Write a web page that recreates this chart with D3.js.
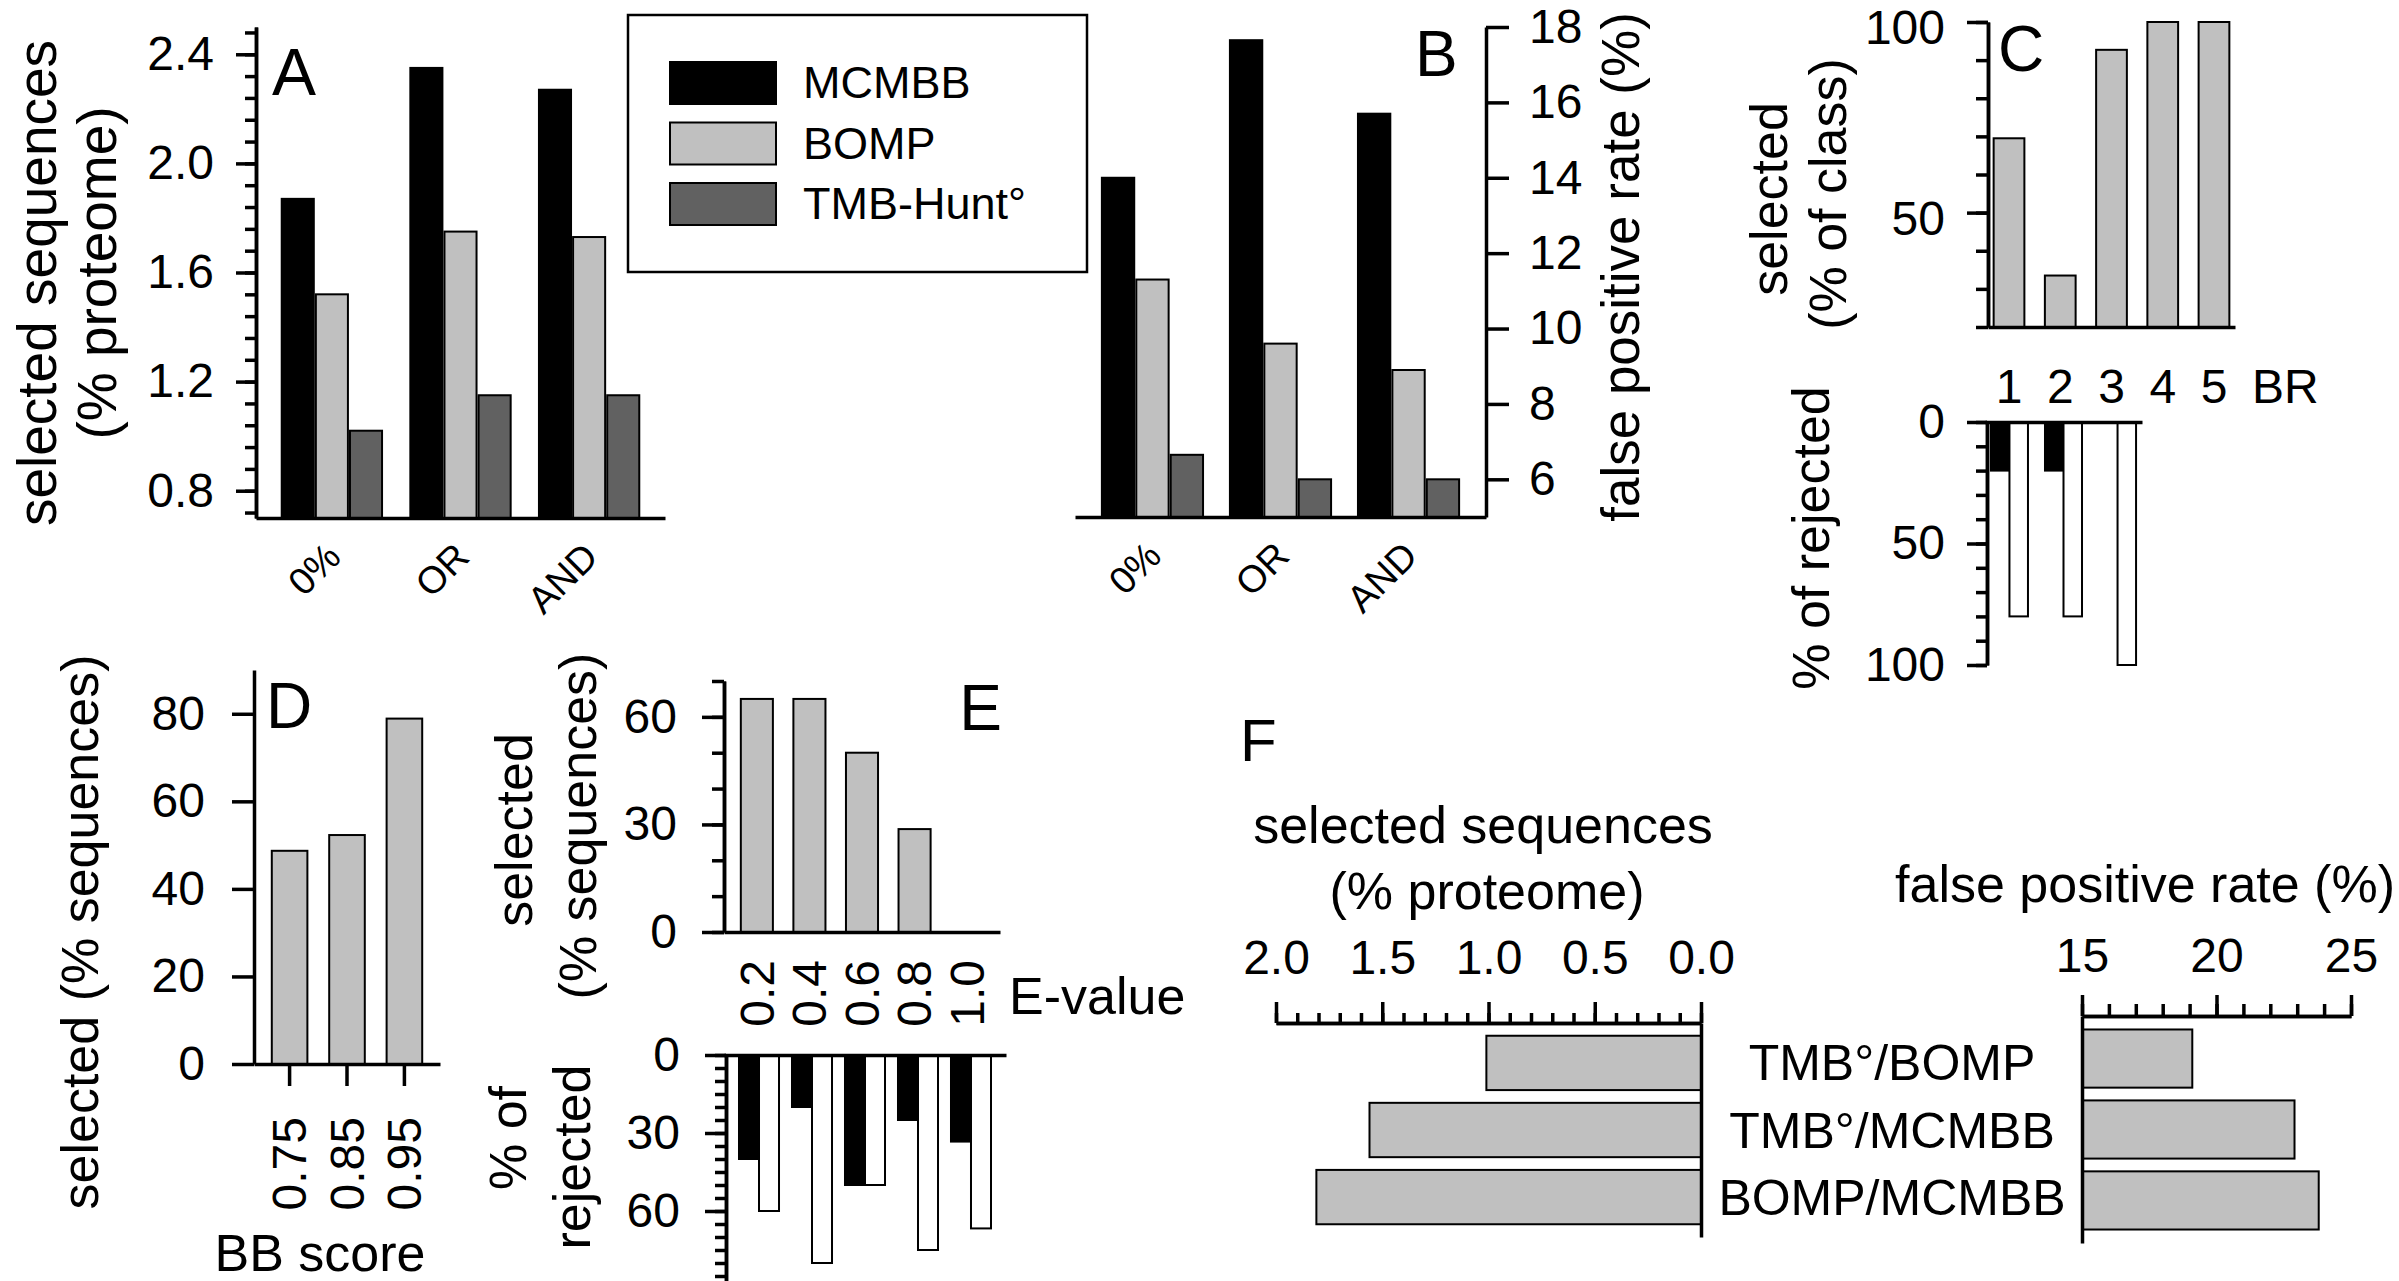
<!DOCTYPE html>
<html>
<head>
<meta charset="utf-8">
<script src="https://cdn.jsdelivr.net/npm/d3@7"></script>
<style>
  body { margin: 0; background: #fff; }
  svg text { font-family: "Liberation Sans", Arial, sans-serif; fill: #000; }
  .axis path, .axis line { stroke: #000; stroke-width: 3.5; }
  .bar { stroke: #000; stroke-width: 2; }
</style>
</head>
<body>
<svg id="fig" width="2399" height="1281"></svg>
<script>
// panels A and B: threshold combinations
var groups = ["0%", "OR", "AND"];
var methods = ["MCMBB", "BOMP", "TMB-Hunt°"];
var methodColors = ["#000000", "#c0c0c0", "#616161"];
var selMCMBB = [1.87, 2.35, 2.27];
var selBOMP = [1.52, 1.75, 1.73];
var selTMB = [1.02, 1.15, 1.15];
var fprMCMBB = [14.0, 17.65, 15.7];
var fprBOMP = [11.3, 9.6, 8.9];
var fprTMB = [6.65, 6.0, 6.0];

// panel C: beta-barrel classes
var brClasses = ["1", "2", "3", "4", "5"];
var brSelected = [69.5, 33.5, 92.7, 100, 100];
var brRejClasses = ["1", "2", "3"];
var brRejBlack = [20, 20, 0];
var brRejWhite = [80, 80, 100];

// panel D: BB score
var bbScores = ["0.75", "0.85", "0.95"];
var bbSelected = [48.7, 52.3, 78.9];

// panel E: E-value
var eValues = ["0.2", "0.4", "0.6", "0.8", "1.0"];
var eSelected = [65, 65, 50, 28.7, 0];
var eRejBlack = [40, 20, 50, 25, 33.3];
var eRejWhite = [60, 80, 50, 75, 66.7];

// panel F: pairwise combinations
var pairs = ["TMB°/BOMP", "TMB°/MCMBB", "BOMP/MCMBB"];
var pairSelected = [1.01, 1.56, 1.81];
var pairFpr = [19.1, 22.9, 23.8];

var svg = d3.select("#fig");
var TICK_FONT = 48, TITLE_FONT = 52;

function addAxis(transform, axis) {
    var g = svg.append("g")
        .attr("class", "axis")
        .attr("transform", transform)
        .call(axis.tickSizeOuter(0));
    g.attr("font-size", TICK_FONT).attr("font-family", null);
    return g;
}

function label(txt, x, y, size, anchor) {
    return svg.append("text")
        .attr("x", x).attr("y", y)
        .attr("font-size", size)
        .attr("text-anchor", anchor || "start")
        .text(txt);
}

// rotated (bottom to top) title centred on (x, y)
function vlabel(txt, x, y, size, dy) {
    return svg.append("text")
        .attr("transform", "translate(" + x + "," + y + ") rotate(-90)")
        .attr("text-anchor", "middle")
        .attr("dy", dy || "0.25em")
        .attr("font-size", size)
        .text(txt);
}

function groupedBars(series, xScale, sub, yScale, base) {
    series.forEach(function (vals, s) {
        svg.append("g").selectAll("rect")
            .data(vals)
            .join("rect")
            .attr("class", "bar")
            .attr("fill", methodColors[s])
            .attr("x", function (d, i) { return xScale(groups[i]) + sub(methods[s]); })
            .attr("width", sub.bandwidth())
            .attr("y", function (d) { return yScale(d); })
            .attr("height", function (d) { return base - yScale(d); });
    });
}

function slantLabels(g) {
    g.selectAll("text")
        .attr("x", 0).attr("y", 0).attr("dy", 0)
        .attr("text-anchor", "end")
        .attr("font-size", 38)
        .attr("transform", "translate(11,41) rotate(-45)");
}

// ---------- A ----------
var aX = d3.scaleBand().domain(groups).range([256, 665]).paddingInner(0.22).paddingOuter(0.2);
var aSub = d3.scaleBand().domain(methods).range([0, aX.bandwidth()]).paddingInner(0.06);
var aY = d3.scaleLinear().domain([0.7, 2.5]).range([518, 27]);

groupedBars([selMCMBB, selBOMP, selTMB], aX, aSub, aY, aY(0.7));

addAxis("translate(256,0)", d3.axisLeft(aY).tickValues(d3.range(0.72, 2.5, 0.08)).tickSize(11).tickFormat(""));
addAxis("translate(256,0)", d3.axisLeft(aY).tickValues([0.8, 1.2, 1.6, 2.0, 2.4])
    .tickFormat(d3.format(".1f")).tickSize(20).tickPadding(22));
slantLabels(addAxis("translate(0,518)", d3.axisBottom(aX).tickSize(0)));

label("A", 272, 95, 66);
vlabel("selected sequences", 42, 283, 55);
vlabel("(% proteome)", 102, 273, 55);

// legend
svg.append("rect").attr("x", 628).attr("y", 15).attr("width", 459).attr("height", 257)
    .attr("fill", "none").attr("stroke", "#000").attr("stroke-width", 2.5);
methods.forEach(function (m, i) {
    svg.append("rect").attr("class", "bar")
        .attr("x", 670).attr("y", 62 + i * 60.5).attr("width", 106).attr("height", 42)
        .attr("fill", methodColors[i]);
    label(m, 803, 98 + i * 60.5, 45);
});

// ---------- B ----------
var bX = d3.scaleBand().domain(groups).range([1075, 1486]).paddingInner(0.21).paddingOuter(0.21);
var bSub = d3.scaleBand().domain(methods).range([0, bX.bandwidth()]).paddingInner(0.06);
var bY = d3.scaleLinear().domain([5, 18]).range([517, 27]);

groupedBars([fprMCMBB, fprBOMP, fprTMB], bX, bSub, bY, bY(5));

addAxis("translate(1486,0)", d3.axisRight(bY).tickValues(d3.range(6, 19, 2)).tickSize(23).tickPadding(20));
slantLabels(addAxis("translate(0,517)", d3.axisBottom(bX).tickSize(0)));

label("B", 1415, 76, 64);
vlabel("false positive rate (%)", 1626, 267, 53);

// ---------- C (top: selected, bottom: rejected) ----------
var cX = d3.scaleBand().domain(brClasses).range([1988, 2235]).paddingInner(0.4).paddingOuter(0.11);
var cY = d3.scaleLinear().domain([20, 100]).range([327, 22]);

svg.append("g").selectAll("rect")
    .data(brSelected)
    .join("rect")
    .attr("class", "bar")
    .attr("fill", "#c0c0c0")
    .attr("x", function (d, i) { return cX(brClasses[i]); })
    .attr("width", cX.bandwidth())
    .attr("y", function (d) { return cY(d); })
    .attr("height", function (d) { return cY(20) - cY(d); });

addAxis("translate(1988,0)", d3.axisLeft(cY).tickValues(d3.range(20, 101, 10)).tickSize(12).tickFormat(""));
addAxis("translate(1988,0)", d3.axisLeft(cY).tickValues([50, 100]).tickSize(21).tickPadding(22))
    .selectAll("text").attr("dy", "0.45em");
addAxis("translate(0,327)", d3.axisBottom(cX).tickSize(0).tickPadding(42));
label("BR", 2252, 403, TICK_FONT);

var cRX = d3.scaleBand().domain(brRejClasses).range([1985, 2142]).paddingInner(0.315).paddingOuter(0.11);
var cRSub = d3.scaleBand().domain(["black", "white"]).range([0, cRX.bandwidth()]);
var cRY = d3.scaleLinear().domain([0, 100]).range([422, 665]);

[[brRejBlack, "black", "#000"], [brRejWhite, "white", "#fff"]].forEach(function (s) {
    svg.append("g").selectAll("rect")
        .data(s[0])
        .join("rect")
        .attr("class", "bar")
        .attr("fill", s[2])
        .attr("x", function (d, i) { return cRX(brRejClasses[i]) + cRSub(s[1]); })
        .attr("width", cRSub.bandwidth())
        .attr("y", cRY(0))
        .attr("height", function (d) { return cRY(d) - cRY(0); });
});

addAxis("translate(1987,0)", d3.axisLeft(cRY).tickValues(d3.range(0, 101, 10)).tickSize(11).tickFormat(""));
addAxis("translate(1987,0)", d3.axisLeft(cRY).tickValues([0, 50, 100]).tickSize(20).tickPadding(22));
addAxis("translate(0,422)", d3.axisTop(cRX).tickSize(0).tickFormat(""));

label("C", 1998, 71, 64);
vlabel("selected", 1769, 199, TITLE_FONT, "0.35em");
vlabel("(% of class)", 1833, 194, TITLE_FONT);
vlabel("% of rejected", 1816, 538, TITLE_FONT);

// ---------- D ----------
var dX = d3.scaleBand().domain(bbScores).range([254, 440]).paddingInner(0.38).paddingOuter(0.31);
var dY = d3.scaleLinear().domain([0, 90]).range([1064, 670]);

svg.append("g").selectAll("rect")
    .data(bbSelected)
    .join("rect")
    .attr("class", "bar")
    .attr("fill", "#c0c0c0")
    .attr("x", function (d, i) { return dX(bbScores[i]); })
    .attr("width", dX.bandwidth())
    .attr("y", function (d) { return dY(d); })
    .attr("height", function (d) { return dY(0) - dY(d); });

addAxis("translate(254,0)", d3.axisLeft(dY).tickValues([0, 20, 40, 60, 80]).tickSize(22).tickPadding(27));
addAxis("translate(0,1064)", d3.axisBottom(dX).tickSize(22))
    .selectAll("text")
    .attr("x", 0).attr("y", 0).attr("dy", "0.35em")
    .attr("text-anchor", "end")
    .attr("transform", "translate(0,53) rotate(-90)");

label("D", 266, 728, 64);
vlabel("selected (% sequences)", 85, 932, TITLE_FONT);
label("BB score", 320, 1271, TITLE_FONT, "middle");

// ---------- E (top: selected, bottom: rejected) ----------
var eX = d3.scaleBand().domain(eValues).range([724, 1000]).paddingInner(0.39).paddingOuter(0.32);
var eY = d3.scaleLinear().domain([0, 70]).range([932, 681]);

svg.append("g").selectAll("rect")
    .data(eSelected.filter(function (d) { return d > 0; }))
    .join("rect")
    .attr("class", "bar")
    .attr("fill", "#c0c0c0")
    .attr("x", function (d, i) { return eX(eValues[i]); })
    .attr("width", eX.bandwidth())
    .attr("y", function (d) { return eY(d); })
    .attr("height", function (d) { return eY(0) - eY(d); });

addAxis("translate(724,0)", d3.axisLeft(eY).tickValues(d3.range(0, 71, 10)).tickSize(12).tickFormat(""));
addAxis("translate(724,0)", d3.axisLeft(eY).tickValues([0, 30, 60]).tickSize(22).tickPadding(25));
addAxis("translate(0,932)", d3.axisBottom(eX).tickSize(0))
    .selectAll("text")
    .attr("x", 0).attr("y", 0).attr("dy", "0.35em")
    .attr("text-anchor", "end")
    .attr("transform", "translate(0,28) rotate(-90)");
label("E-value", 1009, 1014, TITLE_FONT);

var eRX = d3.scaleBand().domain(eValues).range([724, 1006]).paddingInner(0.245).paddingOuter(0.283);
var eRSub = d3.scaleBand().domain(["black", "white"]).range([0, eRX.bandwidth()]);
var eRY = d3.scaleLinear().domain([0, 90]).range([1055, 1289]);

[[eRejBlack, "black", "#000"], [eRejWhite, "white", "#fff"]].forEach(function (s) {
    svg.append("g").selectAll("rect")
        .data(s[0])
        .join("rect")
        .attr("class", "bar")
        .attr("fill", s[2])
        .attr("x", function (d, i) { return eRX(eValues[i]) + eRSub(s[1]); })
        .attr("width", eRSub.bandwidth())
        .attr("y", eRY(0))
        .attr("height", function (d) { return eRY(d) - eRY(0); });
});

addAxis("translate(726,0)", d3.axisLeft(eRY).tickValues(d3.range(0, 91, 5)).tickSize(11).tickFormat(""));
addAxis("translate(726,0)", d3.axisLeft(eRY).tickValues([0, 30, 60]).tickSize(21).tickPadding(25));

addAxis("translate(0,1055)", d3.axisTop(eRX).tickSize(0).tickFormat(""));

label("E", 1002, 730, 64, "end");
vlabel("selected", 514, 830, TITLE_FONT, "0.35em");
vlabel("(% sequences)", 583, 826, TITLE_FONT);
vlabel("% of", 508, 1138, TITLE_FONT, "0.35em");
vlabel("rejected", 577, 1157, TITLE_FONT);

// ---------- F ----------
var fLX = d3.scaleLinear().domain([0, 2]).range([1701, 1276]);
var fY = d3.scaleBand().domain(pairs).range([1023, 1237]).paddingInner(0.19).paddingOuter(0.19);
var fRX = d3.scaleLinear().domain([15, 25]).range([2082, 2351]);
var fRY = d3.scaleBand().domain(pairs).range([1016, 1243]).paddingInner(0.18).paddingOuter(0.19);

svg.append("g").selectAll("rect")
    .data(pairSelected)
    .join("rect")
    .attr("class", "bar")
    .attr("fill", "#c0c0c0")
    .attr("x", function (d) { return fLX(d); })
    .attr("width", function (d) { return fLX(0) - fLX(d); })
    .attr("y", function (d, i) { return fY(pairs[i]); })
    .attr("height", fY.bandwidth());

svg.append("g").selectAll("rect")
    .data(pairFpr)
    .join("rect")
    .attr("class", "bar")
    .attr("fill", "#c0c0c0")
    .attr("x", fRX(15))
    .attr("width", function (d) { return fRX(d) - fRX(15); })
    .attr("y", function (d, i) { return fRY(pairs[i]); })
    .attr("height", fRY.bandwidth());

addAxis("translate(0,1023)", d3.axisTop(fLX).tickValues(d3.range(0, 2.01, 0.1)).tickSize(10).tickFormat(""));
addAxis("translate(0,1023)", d3.axisTop(fLX).tickValues([0, 0.5, 1, 1.5, 2])
    .tickFormat(d3.format(".1f")).tickSize(21).tickPadding(28));
addAxis("translate(1701,0)", d3.axisRight(fY).tickSize(0).tickFormat(""));

addAxis("translate(0,1016)", d3.axisTop(fRX).tickValues(d3.range(15, 25.1, 1)).tickSize(12).tickFormat(""));
addAxis("translate(0,1016)", d3.axisTop(fRX).tickValues([15, 20, 25]).tickSize(21).tickPadding(23));
addAxis("translate(2082,0)", d3.axisLeft(fRY).tickSize(0).tickFormat(""));

svg.append("g").selectAll("text")
    .data(pairs)
    .join("text")
    .attr("x", 1892)
    .attr("y", function (d) { return fY(d) + fY.bandwidth() / 2; })
    .attr("dy", "0.35em")
    .attr("text-anchor", "middle")
    .attr("font-size", 50)
    .text(function (d) { return d; });

label("F", 1240, 761, 60);
label("selected sequences", 1483, 843, TITLE_FONT, "middle");
label("(% proteome)", 1487, 909, TITLE_FONT, "middle");
label("false positive rate (%)", 2145, 902, TITLE_FONT, "middle");
</script>
</body>
</html>
